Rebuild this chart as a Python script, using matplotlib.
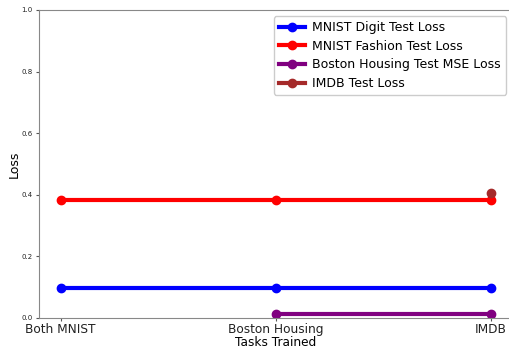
import matplotlib
matplotlib.use("Agg")
import matplotlib.pyplot as plt

# Tasks on x axis
tasks = ["Both MNIST", "Boston Housing", "IMDB"]

# Test losses after each task
mnist_digit = [0.096, 0.096, 0.096]
mnist_fashion = [0.383, 0.383, 0.383]
boston_mse = [0.013, 0.013]
imdb_loss = [0.405]

fig = plt.figure(figsize=(5.09, 3.49), dpi=100)
ax = fig.add_axes([39/509, 31/349, (512.5-39)/509, 308/349])

lw = 3
ms = 6
ax.plot(tasks, mnist_digit, color="blue", marker="o", lw=lw, ms=ms, label="MNIST Digit Test Loss")
ax.plot(tasks, mnist_fashion, color="red", marker="o", lw=lw, ms=ms, label="MNIST Fashion Test Loss")
ax.plot(tasks[1:], boston_mse, color="purple", marker="o", lw=lw, ms=ms, label="Boston Housing Test MSE Loss")
ax.plot(tasks[2:], imdb_loss, color="brown", marker="o", lw=lw, ms=ms, label="IMDB Test Loss")

ax.set_xlim(-0.1, 2.1)
ax.set_ylim(0, 1)
ax.set_xlabel("Tasks Trained", fontsize=8.7, labelpad=0)
ax.set_ylabel("Loss", fontsize=9, labelpad=0.5)
ax.tick_params(axis="x", labelsize=8.7, pad=1, length=2.5, colors="#555555", labelcolor="#222222")
ax.tick_params(axis="y", labelsize=5, pad=2, length=2.5, colors="#555555", labelcolor="#222222")
for s in ax.spines.values():
    s.set_color("#888888")
    s.set_linewidth(0.8)
ax.spines["right"].set_visible(False)

ax.legend(loc="upper right", bbox_to_anchor=(506/509, 1 - 16/349), fontsize=9,
          bbox_transform=fig.transFigure, borderaxespad=0, handlelength=2.1,
          labelspacing=0.45, borderpad=0.4, handletextpad=0.6, framealpha=1)

fig.savefig("out.png", dpi=100)
